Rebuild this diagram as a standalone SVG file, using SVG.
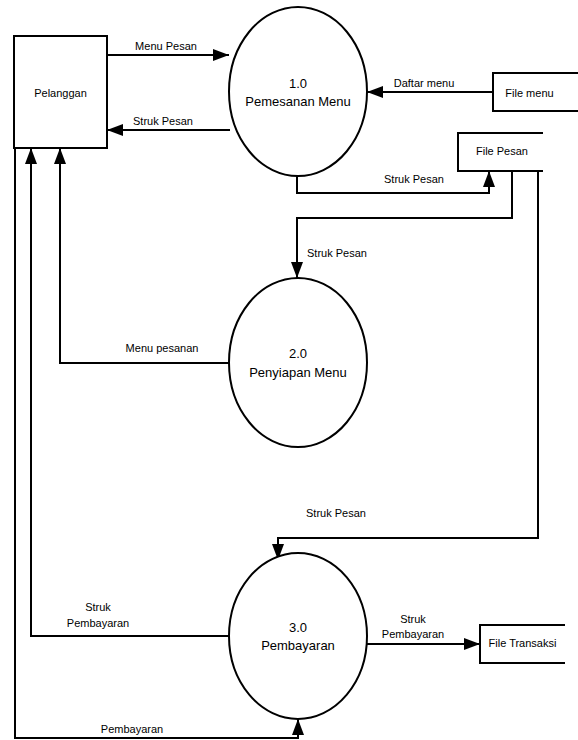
<svg xmlns="http://www.w3.org/2000/svg" width="578" height="740" viewBox="0 0 578 740">
<style>
text{font-family:"Liberation Sans",Arial,sans-serif;fill:#000}
.lbl{font-size:11px}
.proc{font-size:13px;text-anchor:middle}
.mid{text-anchor:middle}
.shape{fill:#fff;stroke:#000;stroke-width:2}
.ln{fill:none;stroke:#000;stroke-width:2}
.flow{fill:none;stroke:#000;stroke-width:2;marker-end:url(#arr)}
</style>
<defs>
<marker id="arr" markerUnits="userSpaceOnUse" markerWidth="16" markerHeight="12" refX="16" refY="6" orient="auto">
<path d="M0,0 L16,6 L0,12 z" fill="#000"/>
</marker>
</defs>
<rect width="578" height="740" fill="#fff"/>
<g id="connectors">
<line class="flow" x1="107" y1="55" x2="229" y2="55"/>
<text class="lbl mid" x="166" y="50">Menu Pesan</text>
<line class="flow" x1="230" y1="130" x2="107" y2="130"/>
<text class="lbl mid" x="163" y="125">Struk Pesan</text>
<line class="flow" x1="493" y1="92" x2="367" y2="92"/>
<text class="lbl mid" x="424" y="87">Daftar menu</text>
<polyline class="flow" points="297,176 297,193 489,193 489,171"/>
<text class="lbl mid" x="414" y="183">Struk Pesan</text>
<polyline class="flow" points="512,171 512,218 297,218 297,278"/>
<text class="lbl" x="307" y="257">Struk Pesan</text>
<polyline class="flow" points="538,171 538,538 278,538 278,560"/>
<text class="lbl mid" x="336" y="517">Struk Pesan</text>
<polyline class="flow" points="229,363 60,363 60,148"/>
<text class="lbl mid" x="162" y="352">Menu pesanan</text>
<polyline class="flow" points="229,636 31,636 31,148"/>
<text class="lbl mid" x="98" y="611">Struk</text>
<text class="lbl mid" x="98" y="627">Pembayaran</text>
<polyline class="flow" points="15,148 15,738 298,738 298,719"/>
<text class="lbl mid" x="132" y="733">Pembayaran</text>
<line class="flow" x1="367" y1="644" x2="480" y2="644"/>
<text class="lbl mid" x="413" y="623">Struk</text>
<text class="lbl mid" x="413" y="638">Pembayaran</text>
</g>
<g id="pelanggan">
<rect class="shape" x="14" y="36" width="93" height="112"/>
<text class="lbl mid" x="60.5" y="97">Pelanggan</text>
</g>
<g id="p1">
<ellipse class="shape" cx="298" cy="91.5" rx="69" ry="84.5"/>
<text class="proc" x="298" y="88">1.0</text>
<text class="proc" x="298" y="106">Pemesanan Menu</text>
</g>
<g id="p2">
<ellipse class="shape" cx="298" cy="362.5" rx="69" ry="84.5"/>
<text class="proc" x="298" y="358">2.0</text>
<text class="proc" x="298" y="377">Penyiapan Menu</text>
</g>
<g id="p3">
<ellipse class="shape" cx="298" cy="636" rx="69" ry="83"/>
<text class="proc" x="298" y="632">3.0</text>
<text class="proc" x="298" y="650">Pembayaran</text>
</g>
<g id="filemenu">
<polyline class="ln" points="578,73 493,73 493,111 578,111"/>
<text class="lbl mid" x="529.5" y="97">File menu</text>
</g>
<g id="filepesan">
<polyline class="ln" points="543,133 458,133 458,171 543,171"/>
<text class="lbl mid" x="502" y="155">File Pesan</text>
</g>
<g id="filetransaksi">
<polyline class="ln" points="565,625 480,625 480,663 565,663"/>
<text class="lbl mid" x="522.5" y="647">File Transaksi</text>
</g>
</svg>
